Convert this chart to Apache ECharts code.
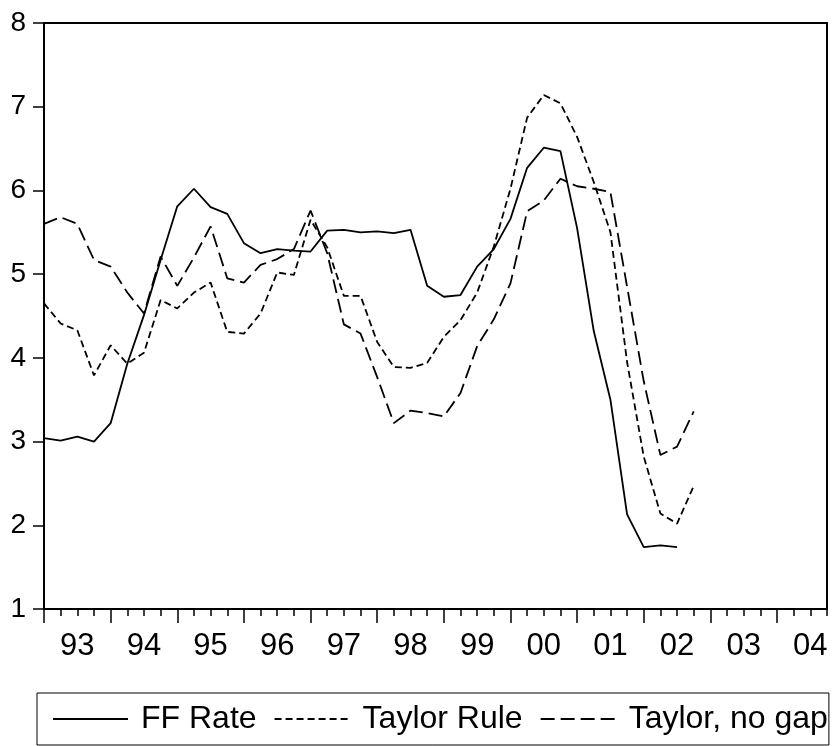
<!DOCTYPE html>
<html>
<head>
<meta charset="utf-8">
<script src="https://cdn.jsdelivr.net/npm/echarts@6/dist/echarts.min.js"></script>
<style>
html,body{margin:0;padding:0;background:#fff;}
#chart{width:835px;height:746px;}
</style>
</head>
<body>
<div id="chart"></div>
<script>
// Year tick labels (two-digit) and quarters
var yearLabels = ['93','94','95','96','97','98','99','00','01','02','03','04'];
var quarters = ['Q1','Q2','Q3','Q4'];

// FF Rate, 1993Q1 .. 2002Q3
var ffRate = [3.04,3.01,3.06,3.00,3.22,3.93,4.51,5.17,5.81,6.02,5.80,5.72,5.37,5.25,5.30,5.28,
  5.27,5.52,5.53,5.50,5.51,5.49,5.53,4.86,4.73,4.75,5.09,5.30,5.66,6.27,6.51,6.47,
  5.55,4.32,3.50,2.13,1.74,1.76,1.74];
// Taylor Rule, 1993Q1 .. 2002Q4
var taylorRule = [4.65,4.41,4.33,3.79,4.15,3.93,4.06,4.69,4.59,4.78,4.90,4.31,4.29,4.53,5.02,4.99,
  5.65,5.32,4.74,4.74,4.19,3.89,3.88,3.94,4.25,4.45,4.78,5.33,6.02,6.87,7.14,7.04,
  6.64,6.10,5.50,3.95,2.82,2.14,2.02,2.47];
// Taylor, no gap, 1993Q1 .. 2002Q4
var taylorNoGap = [5.60,5.68,5.60,5.17,5.09,4.78,4.53,5.21,4.86,5.20,5.57,4.95,4.90,5.11,5.18,5.30,
  5.76,5.25,4.40,4.29,3.77,3.22,3.37,3.34,3.30,3.58,4.14,4.46,4.89,5.75,5.88,6.14,
  6.05,6.02,5.98,4.85,3.72,2.84,2.94,3.36];

var categories = [];
yearLabels.forEach(function(y){ quarters.forEach(function(q){ categories.push(y + q); }); });

var FONT = 'Liberation Sans, Arial, sans-serif';
var chart = echarts.init(document.getElementById('chart'), null, {renderer:'canvas'});

var baseX = {
  type: 'category',
  data: categories,
  boundaryGap: false,
  position: 'bottom',
  axisLine: {show: true, lineStyle: {color: '#000', width: 2}},
  splitLine: {show: false}
};

chart.setOption({
  animation: false,
  backgroundColor: '#fff',
  grid: {left: 44, right: 8, top: 23, bottom: 137, show: true, borderColor: '#000', borderWidth: 2, backgroundColor: 'transparent'},
  xAxis: [
    Object.assign({}, baseX, {
      axisTick: {show: true, interval: 0, length: 7, lineStyle: {color: '#000', width: 1.5}},
      axisLabel: {
        show: true,
        interval: function(i){ return i % 4 === 2; },
        formatter: function(v){ return v.slice(0,2); },
        fontSize: 31, fontFamily: FONT, color: '#000', margin: 22
      }
    }),
    Object.assign({}, baseX, {
      axisTick: {show: true, interval: function(i){ return i % 4 === 0; }, length: 14, lineStyle: {color: '#000', width: 1.5}},
      axisLabel: {show: false}
    })
  ],
  yAxis: {
    type: 'value', min: 1, max: 8, interval: 1,
    axisLine: {show: true, lineStyle: {color: '#000', width: 2}},
    axisTick: {show: true, length: 11, lineStyle: {color: '#000', width: 1.5}},
    axisLabel: {fontSize: 28, fontFamily: FONT, color: '#000', margin: 18, padding: [0,0,5,0]},
    splitLine: {show: false}
  },
  legend: {
    left: 37, top: 693, width: 820,
    padding: [9, 1, 9, 15],
    itemGap: 17, itemWidth: 75, itemHeight: 14,
    borderColor: '#000', borderWidth: 1,
    itemStyle: {opacity: 0},
    textStyle: {fontSize: 32, fontFamily: FONT, color: '#000', padding: [0,0,0,8], lineHeight: 34},
    data: ['FF Rate', 'Taylor Rule', 'Taylor, no gap']
  },
  series: [
    {name: 'FF Rate', type: 'line', data: ffRate, symbol: 'none', showSymbol: false,
     lineStyle: {color: '#000', width: 1.8, type: 'solid'}, itemStyle: {color: '#000'}},
    {name: 'Taylor Rule', type: 'line', data: taylorRule, symbol: 'none', showSymbol: false,
     lineStyle: {color: '#000', width: 1.8, type: [7, 4]}, itemStyle: {color: '#000'}},
    {name: 'Taylor, no gap', type: 'line', data: taylorNoGap, symbol: 'none', showSymbol: false,
     lineStyle: {color: '#000', width: 1.8, type: [14, 6]}, itemStyle: {color: '#000'}}
  ]
});
</script>
</body>
</html>
